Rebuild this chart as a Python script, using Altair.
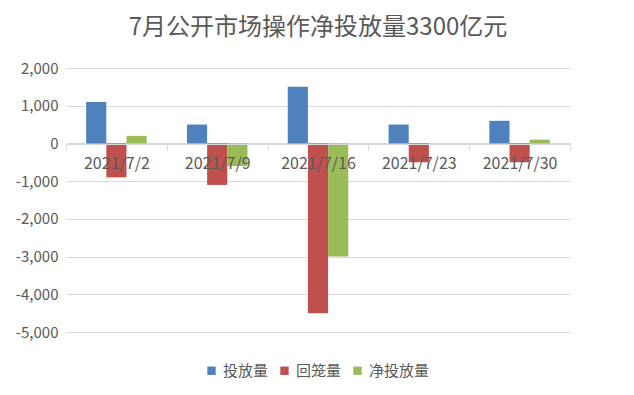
import altair as alt
import pandas as pd

dates = ["2021/7/2", "2021/7/9", "2021/7/16", "2021/7/23", "2021/7/30"]
series = ["投放量", "回笼量", "净投放量"]
inject = [1100, 500, 1500, 500, 600]
withdraw = [-900, -1100, -4500, -500, -500]
net = [200, -600, -3000, 0, 100]
colors = ["#4f81bd", "#c0504d", "#9bbb59"]

rows = []
for i, d in enumerate(dates):
    for s, vals in zip(series, [inject, withdraw, net]):
        rows.append({"date": d, "series": s, "value": vals[i]})
df = pd.DataFrame(rows)

FONT = "Noto Sans CJK SC"
GRAY = "#595959"

chart = alt.Chart(df).mark_bar().encode(
    x=alt.X("date:N", sort=dates, title=None,
            scale=alt.Scale(paddingInner=0, paddingOuter=0),
            axis=alt.Axis(orient="bottom", offset=-188, labelAngle=0, zindex=1,
                          tickBand="extent", domainColor="#d9d9d9",
                          tickColor="#d9d9d9", tickSize=6, labelPadding=5,
                          labelColor=GRAY, labelFontSize=16, labelFont=FONT,
                          grid=False)),
    xOffset=alt.XOffset("series:N", sort=series,
                        scale=alt.Scale(paddingInner=0, paddingOuter=1)),
    y=alt.Y("value:Q", title=None,
            scale=alt.Scale(domain=[-5000, 2000], nice=False),
            axis=alt.Axis(values=list(range(-5000, 2001, 1000)),
                          labelExpr="replace(format(datum.value, ',.0f'), '\u2212', '-')",
                          domain=False, ticks=False, gridColor="#d9d9d9",
                          labelColor=GRAY, labelFontSize=15, labelFont=FONT,
                          labelPadding=8)),
    color=alt.Color("series:N", sort=series,
                    scale=alt.Scale(domain=series, range=colors),
                    legend=alt.Legend(title=None, orient="none", direction="horizontal",
                                      legendX=138, legendY=295, symbolType="square",
                                      symbolSize=70, symbolStrokeWidth=0,
                                      labelColor=GRAY, labelFontSize=15,
                                      labelFont=FONT, columnPadding=8)),
).properties(
    width=504, height=264,
    title=alt.Title("7月公开市场操作净投放量3300亿元", fontSize=24, color=GRAY,
                    font=FONT, fontWeight="normal", anchor="middle", offset=21),
    autosize=alt.AutoSizeParams(type="none"),
    padding={"left": 58, "top": 60, "right": 50, "bottom": 60},
).configure_view(stroke=None)

chart.save("out.html", embed_options={"renderer": "svg", "actions": False})
